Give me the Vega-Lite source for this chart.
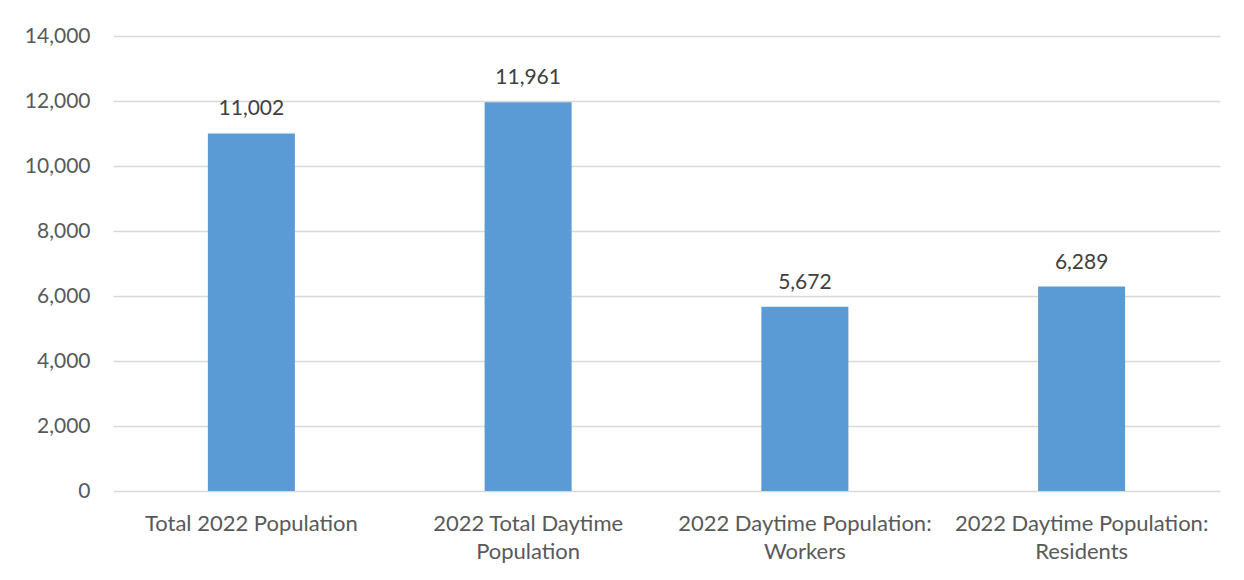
{
  "$schema": "https://vega.github.io/schema/vega-lite/v6.json",
  "width": 1107,
  "height": 455,
  "autosize": "none",
  "padding": {"left": 113, "top": 36, "right": 24, "bottom": 89},
  "background": "white",
  "data": {
    "values": [
      {"category": "Total 2022 Population", "population": 11002},
      {"category": "2022 Total Daytime\nPopulation", "population": 11961},
      {"category": "2022 Daytime Population:\nWorkers", "population": 5672},
      {"category": "2022 Daytime Population:\nResidents", "population": 6289}
    ]
  },
  "encoding": {
    "x": {
      "field": "category",
      "type": "nominal",
      "sort": null,
      "scale": {"paddingInner": 0.6856, "paddingOuter": 0.3428},
      "axis": {
        "title": null,
        "labelAngle": 0,
        "labelExpr": "split(datum.label, '\\n')",
        "labelBaseline": "top",
        "labelPadding": 22,
        "labelLineHeight": 28,
        "labelFont": "Lato",
        "labelFontSize": 22,
        "labelColor": "#595959",
        "labelLimit": 0,
        "domain": false,
        "ticks": false
      }
    },
    "y": {
      "field": "population",
      "type": "quantitative",
      "scale": {"domain": [0, 14000]},
      "axis": {
        "title": null,
        "values": [0, 2000, 4000, 6000, 8000, 10000, 12000, 14000],
        "format": ",d",
        "labelFont": "Lato",
        "labelFontSize": 21,
        "labelColor": "#595959",
        "labelPadding": 23,
        "labelBaseline": "middle",
        "domain": false,
        "ticks": false,
        "grid": true,
        "gridColor": "#d9d9d9",
        "gridWidth": 1.3
      }
    }
  },
  "layer": [
    {"mark": {"type": "bar", "color": "#5B9BD5"}},
    {
      "mark": {
        "type": "text",
        "baseline": "alphabetic",
        "dy": -18,
        "font": "Lato",
        "fontSize": 21,
        "color": "#404040"
      },
      "encoding": {"text": {"field": "population", "type": "quantitative", "format": ",d"}}
    }
  ],
  "config": {"view": {"stroke": null}}
}
